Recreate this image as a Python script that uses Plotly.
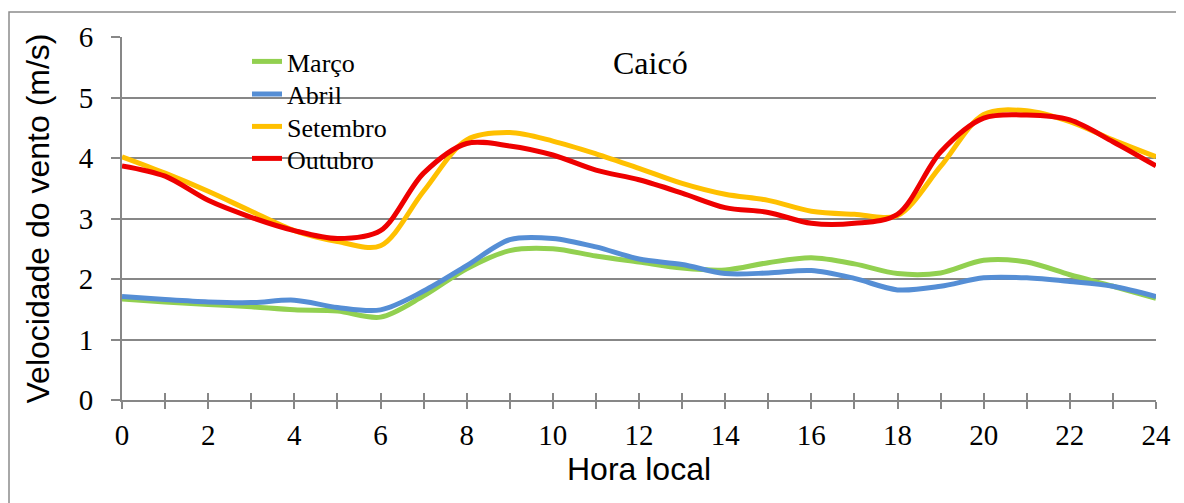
import plotly.graph_objects as go

hours = list(range(25))
marco = [1.67, 1.62, 1.58, 1.54, 1.49, 1.47, 1.37, 1.72, 2.17, 2.47, 2.50, 2.38, 2.28, 2.18, 2.15, 2.27, 2.35, 2.25, 2.09, 2.10, 2.31, 2.28, 2.07, 1.88, 1.68]
abril = [1.71, 1.66, 1.62, 1.61, 1.65, 1.53, 1.49, 1.80, 2.22, 2.65, 2.67, 2.53, 2.33, 2.24, 2.09, 2.10, 2.14, 2.01, 1.82, 1.88, 2.02, 2.02, 1.96, 1.88, 1.71]
setembro = [4.02, 3.75, 3.45, 3.12, 2.80, 2.62, 2.55, 3.45, 4.30, 4.42, 4.28, 4.07, 3.83, 3.58, 3.40, 3.30, 3.12, 3.07, 3.05, 3.86, 4.72, 4.78, 4.60, 4.30, 4.02]
outubro = [3.87, 3.70, 3.30, 3.02, 2.80, 2.67, 2.80, 3.75, 4.24, 4.20, 4.05, 3.80, 3.64, 3.42, 3.18, 3.10, 2.92, 2.92, 3.07, 4.10, 4.66, 4.71, 4.63, 4.27, 3.87]

series = [
    ("Março", marco, "#92D050"),
    ("Abril", abril, "#558ED5"),
    ("Setembro", setembro, "#FFC000"),
    ("Outubro", outubro, "#EE0000"),
]
legend_rows = [61.5, 94, 126.5, 158.5]  # page y of legend entries

OFF = 8  # browser body margin
W, H = 1184 - OFF, 503 - OFF
# plot area in page coordinates: x 122..1156, y 37..400
L, T = 122 - OFF, 37 - OFF
R = W - (1156 - OFF)
B = H - (400 - OFF)
pw, ph = W - L - R, H - T - B

def px(x):
    return (x - OFF - L) / pw

def py(y):
    return (H - B - (y - OFF)) / ph

fig = go.Figure()
legend_layouts = {}
for i, (name, vals, color) in enumerate(series):
    lname = "legend" if i == 0 else f"legend{i + 1}"
    fig.add_trace(go.Scatter(
        x=hours, y=vals, name=name, mode="lines",
        line=dict(color=color, width=5, shape="spline", smoothing=0.9),
        legend=lname,
    ))
    legend_layouts[lname] = dict(
        x=px(247), y=py(legend_rows[i]), xanchor="left", yanchor="middle",
        bgcolor="rgba(0,0,0,0)", borderwidth=0,
        font=dict(family="Liberation Serif", size=26, color="black"),
    )

# dummy trace for inside tick marks on x axis (cross ticks)
fig.add_trace(go.Scatter(x=[0, 24], y=[None, None], xaxis="x2", showlegend=False, hoverinfo="skip"))

axis_color = "#878787"
fig.update_layout(
    width=W, height=H,
    margin=dict(l=L, r=R, t=T, b=B),
    paper_bgcolor="white", plot_bgcolor="white",
    showlegend=True,
    xaxis=dict(
        range=[0, 24], dtick=2, tick0=0,
        showgrid=False, zeroline=False,
        showline=True, linecolor=axis_color, linewidth=2,
        ticks="outside", ticklen=7, tickwidth=2, tickcolor=axis_color,
        minor=dict(dtick=1, ticks="outside", ticklen=7, tickwidth=2, tickcolor=axis_color, showgrid=False),
        tickfont=dict(family="Liberation Serif", size=29, color="black"),
        ticklabelstandoff=1,
        title=dict(text="Hora local", font=dict(family="Liberation Sans", size=32, color="black"), standoff=4),
        anchor="y",
    ),
    xaxis2=dict(
        range=[0, 24], dtick=1, tick0=0, overlaying="x", anchor="y",
        showgrid=False, zeroline=False, showline=False,
        ticks="inside", ticklen=7, tickwidth=2, tickcolor=axis_color,
        showticklabels=False, side="bottom",
    ),
    yaxis=dict(
        range=[0, 6], dtick=1, tick0=0,
        showgrid=True, gridcolor=axis_color, gridwidth=2,
        zeroline=False,
        showline=True, linecolor=axis_color, linewidth=2,
        ticks="outside", ticklen=9, tickwidth=2, tickcolor=axis_color,
        tickfont=dict(family="Liberation Serif", size=29, color="black"),
        ticklabelstandoff=12,
        title=dict(text="Velocidade do vento (m/s)", font=dict(family="Liberation Sans", size=32, color="black"), standoff=20),
    ),
    annotations=[
        dict(text="Caicó", x=px(650), y=py(63), xref="paper", yref="paper",
             xanchor="center", yanchor="middle", showarrow=False,
             font=dict(family="Liberation Serif", size=32, color="black")),
    ],
    shapes=[
        dict(type="rect", xref="paper", yref="paper",
             x0=px(9), x1=px(1200), y0=py(520), y1=py(12),
             line=dict(color="#8c8c8c", width=1.5), fillcolor="rgba(0,0,0,0)", layer="below"),
    ],
    **legend_layouts,
)

fig.write_html("out.html")
